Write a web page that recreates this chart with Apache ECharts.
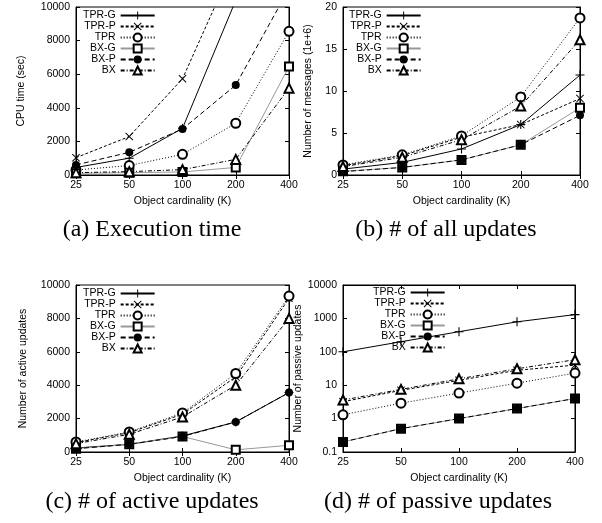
<!DOCTYPE html>
<html>
<head>
<meta charset="utf-8">
<script src="https://cdn.jsdelivr.net/npm/echarts@6/dist/echarts.min.js"></script>
<style>
    html, body { margin: 0; padding: 0; background: #fff; }
    #chart { width: 602px; height: 523px; }
</style>
</head>
<body>
<div id="chart"></div>
<script>
// x categories (object cardinality, K)
var categories = ['25', '50', '100', '200', '400'];
var seriesNames = ['TPR-G', 'TPR-P', 'TPR', 'BX-G', 'BX-P', 'BX'];

// (a) CPU time (sec)
var cpuTprG = [450, 1000, 2780, 10400, 30000];
var cpuTprP = [1030, 2290, 5730, 12800, 25000];
var cpuTpr = [300, 560, 1230, 3080, 8550];
var cpuBxG = [100, 140, 180, 450, 6460];
var cpuBxP = [600, 1350, 2740, 5350, 11100];
var cpuBx = [140, 200, 320, 930, 5170];

// (b) number of messages (1e+6)
var msgTprG = [0.7, 1.5, 3.1, 6.0, 11.9];
var msgTprP = [1.1, 2.3, 4.5, 6.0, 9.1];
var msgTpr = [1.2, 2.4, 4.65, 9.3, 18.7];
var msgBxG = [0.45, 0.9, 1.8, 3.6, 8.0];
var msgBxP = [0.4, 0.9, 1.8, 3.6, 7.1];
var msgBx = [1.0, 2.1, 4.2, 8.2, 16.1];

// (c) number of active updates
var actTprG = [240, 460, 960, 1800, 3560];
var actTprP = [560, 1160, 2260, 4500, 9200];
var actTpr = [600, 1200, 2340, 4700, 9340];
var actBxG = [200, 460, 930, 130, 400];
var actBxP = [200, 460, 930, 1800, 3560];
var actBx = [500, 1060, 2100, 4000, 8000];

// (d) number of passive updates (log)
var pasTprG = [100, 200, 400, 790, 1300];
var pasTprP = [3.2, 7, 14, 28, 40];
var pasTpr = [1.3, 2.9, 5.8, 11.5, 23];
var pasBxG = [0.2, 0.5, 1, 2, 4];
var pasBxP = [0.2, 0.5, 1, 2, 4];
var pasBx = [3.6, 7.5, 15.5, 31, 58];

var PLUS = 'path://M44,0H56V44H100V56H56V100H44V56H0V44H44Z';
var CROSS = 'path://M8.5,0L50,41.5L91.5,0L100,8.5L58.5,50L100,91.5L91.5,100L50,58.5L8.5,100L0,91.5L41.5,50L0,8.5Z';

// line / marker look of each series
var looks = [
    { symbol: PLUS, size: 9, line: '#000', type: 'solid' },
    { symbol: CROSS, size: 8, line: '#000', type: [3, 2] },
    { symbol: 'emptyCircle', size: 9, line: '#000', type: [1, 2] },
    { symbol: 'emptyRect', size: 8, line: '#999', type: 'solid' },
    { symbol: 'circle', size: 8, line: '#000', type: [5, 3] },
    { symbol: 'emptyTriangle', size: 9, line: '#000', type: [4, 2, 1, 2] }
];

var panels = [
    { data: [cpuTprG, cpuTprP, cpuTpr, cpuBxG, cpuBxP, cpuBx], grid: { left: 76, top: 7, width: 213, height: 168 } },
    { data: [msgTprG, msgTprP, msgTpr, msgBxG, msgBxP, msgBx], grid: { left: 343, top: 7, width: 237, height: 168 } },
    { data: [actTprG, actTprP, actTpr, actBxG, actBxP, actBx], grid: { left: 76, top: 285, width: 213, height: 167 } },
    { data: [pasTprG, pasTprP, pasTpr, pasBxG, pasBxP, pasBx], grid: { left: 343, top: 285, width: 232, height: 167 } }
];

var yNames = ['CPU time (sec)', 'Number of messages (1e+6)', 'Number of active updates', 'Number of passive updates'];
var yGaps = [49, 29, 47, 39];
var yScales = [
    { type: 'value', min: 0, max: 10000, interval: 2000 },
    { type: 'value', min: 0, max: 20, interval: 5 },
    { type: 'value', min: 0, max: 10000, interval: 2000 },
    { type: 'log', min: 0.1, max: 10000, logBase: 10 }
];
var legendPos = [
    { left: 83, top: 10 },
    { left: 349, top: 10 },
    { left: 83, top: 288 },
    { left: 373, top: 287 }
];
var captions = [
    { text: '(a) Execution time', x: 152, y: 230 },
    { text: '(b) # of all updates', x: 446, y: 230 },
    { text: '(c) # of active updates', x: 152, y: 502 },
    { text: '(d) # of passive updates', x: 438, y: 502 }
];

function extend(a, b) {
    var o = {};
    for (var k in a) o[k] = a[k];
    for (var k2 in b) o[k2] = b[k2];
    return o;
}

function plainNumber(v) {
    return String(parseFloat(Number(v).toPrecision(6)));
}

var FONT = 'Liberation Sans';
var labelStyle = { color: '#000', fontSize: 10.5, fontFamily: FONT };
var blackLine = { show: true, lineStyle: { color: '#000', width: 1 } };
var tickIn = { show: true, inside: true, length: 4, lineStyle: { color: '#000' } };

var grids = [], xAxes = [], yAxes = [], series = [], legends = [], graphics = [];

panels.forEach(function (p) {
    grids.push(extend({ show: true, borderColor: '#000', borderWidth: 1 }, p.grid));
});

// primary axes 0..3
panels.forEach(function (p, i) {
    xAxes.push({
        type: 'category', gridIndex: i, data: categories, boundaryGap: false,
        axisLine: blackLine, axisTick: tickIn, splitLine: { show: false },
        axisLabel: extend(labelStyle, { margin: 5 }),
        name: 'Object cardinality (K)', nameLocation: 'middle', nameGap: 21,
        nameTextStyle: labelStyle
    });
    yAxes.push(extend(yScales[i], {
        gridIndex: i,
        axisLine: blackLine, axisTick: tickIn, splitLine: { show: false },
        axisLabel: extend(labelStyle, { margin: 6, formatter: plainNumber }),
        name: yNames[i], nameLocation: 'middle', nameGap: yGaps[i],
        nameTextStyle: labelStyle
    }));
});
// mirror axes 4..7 (ticks on top / right)
panels.forEach(function (p, i) {
    xAxes.push({
        type: 'category', gridIndex: i, data: categories, boundaryGap: false, position: 'top',
        axisLine: blackLine, axisTick: tickIn, axisLabel: { show: false }, splitLine: { show: false }
    });
    yAxes.push(extend(yScales[i], {
        gridIndex: i, position: 'right',
        axisLine: blackLine, axisTick: tickIn, axisLabel: { show: false }, splitLine: { show: false }
    }));
});

panels.forEach(function (p, i) {
    p.data.forEach(function (values, k) {
        var look = looks[k];
        var empty = look.symbol.indexOf('empty') === 0;
        series.push({
            name: seriesNames[k],
            type: 'line',
            xAxisIndex: i,
            yAxisIndex: i,
            data: values,
            symbol: look.symbol,
            symbolSize: look.size,
            clip: true,
            lineStyle: { color: look.line, width: 1, type: look.type },
            itemStyle: empty ? { color: '#000', borderColor: '#000', borderWidth: 1 } : { color: '#000', borderWidth: 0 },
            emphasis: { disabled: true },
            z: 2 + k
        });
    });
    legends.push(extend(legendPos[i], {
        orient: 'vertical', align: 'right', padding: 0, itemGap: 0,
        itemWidth: 34, itemHeight: 10, selectedMode: false,
        data: seriesNames,
        textStyle: { color: '#000', fontSize: 10.5, fontFamily: FONT, lineHeight: 10 }
    }));
});

captions.forEach(function (c) {
    graphics.push({
        type: 'text', x: c.x, y: c.y,
        style: { text: c.text, fill: '#000', font: '24px "Liberation Serif"', textAlign: 'center', textVerticalAlign: 'middle' }
    });
});

var myChart = echarts.init(document.getElementById('chart'));
myChart.setOption({
    animation: false,
    backgroundColor: '#fff',
    grid: grids,
    xAxis: xAxes,
    yAxis: yAxes,
    legend: legends,
    series: series,
    graphic: graphics
});
</script>
</body>
</html>
